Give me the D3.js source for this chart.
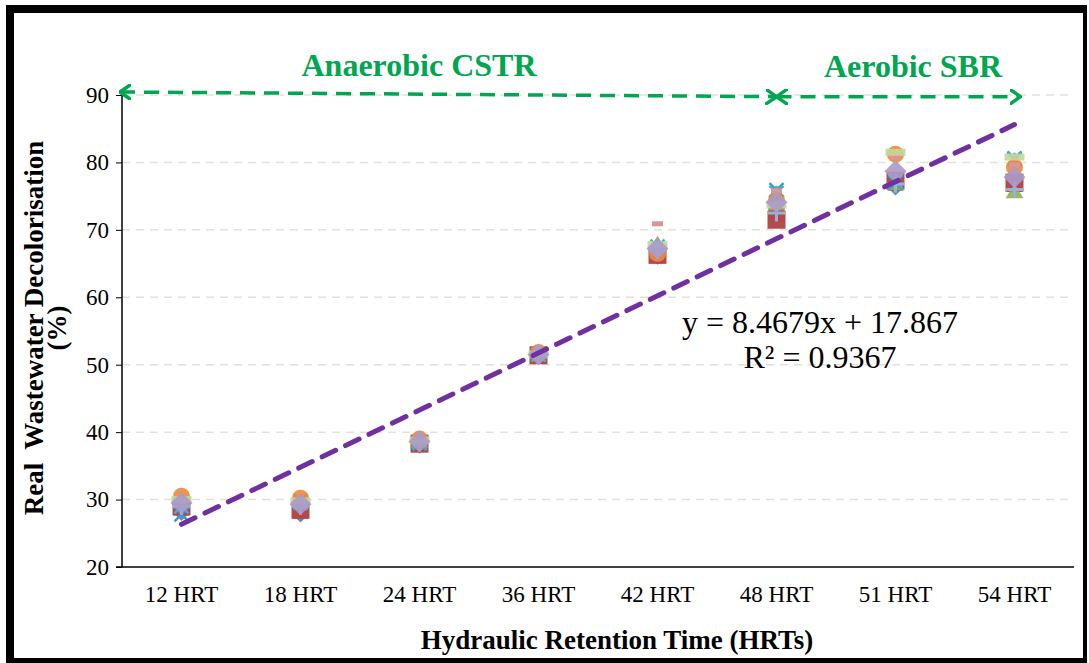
<!DOCTYPE html>
<html>
<head>
<meta charset="utf-8">
<script src="https://cdn.jsdelivr.net/npm/d3@7"></script>
<style>
  body { margin: 0; background: #fff; }
  svg text { font-family: "Liberation Serif", "Times New Roman", serif; }
</style>
</head>
<body>
<script>
// categories and values
var categories = ["12 HRT", "18 HRT", "24 HRT", "36 HRT", "42 HRT", "48 HRT", "51 HRT", "54 HRT"];
var yTicks = [20, 30, 40, 50, 60, 70, 80, 90];

var blueDiamond   = [28.0, 27.8, 38.0, 51.3, 66.0, 75.0, 76.3, 77.0];
var redSquare     = [29.0, 28.5, 38.3, 51.4, 66.3, 71.5, 77.3, 77.0];
var redSquare2    = [28.8, 28.3, 38.2, 51.3, 66.2, 72.3, 77.0, 76.8];
var greenTriangle = [29.5, 29.5, 38.5, 51.6, 67.8, 73.7, 76.7, 75.5];
var tealCross     = [27.8, 29.8, 38.3, 51.5, 66.8, 75.9, 77.0, 80.6];
var tealStar      = [29.0, 29.5, 38.5, 51.5, 67.5, 75.5, 77.2, 80.4];
var orangeCircle  = [30.5, 30.2, 39.0, 51.8, 66.5, 74.4, 81.2, 79.3];
var bluePlus      = [29.0, 29.0, 38.4, 51.4, 67.0, 72.5, 76.8, 76.0];
var pinkDash      = [30.0, 29.0, 38.6, 51.6, 70.9, 75.8, 80.8, 79.6];
var greenBar      = [30.0, 29.8, 38.8, 51.6, 67.8, 73.7, 81.5, 80.8];
var lavDiamond    = [29.5, 29.3, 38.6, 51.5, 67.2, 74.1, 78.7, 77.8];

var trendSlope = 8.4679, trendIntercept = 17.867, trendR2 = 0.9367;

var W = 1089, H = 663;
var margin = {top: 95, right: 15, bottom: 96, left: 122};
var serif = "'Liberation Serif', 'Times New Roman', serif";

var svg = d3.select("body").append("svg")
  .attr("width", W)
  .attr("height", H);

// frame with shadow
svg.append("rect").attr("x", 6).attr("y", 5).attr("width", 1081).attr("height", 658).attr("fill", "#000");
svg.append("rect").attr("x", 14).attr("y", 13).attr("width", 1069).attr("height", 645).attr("fill", "#fff");

var x = d3.scaleBand().domain(categories).range([margin.left, W - margin.right]);
var y = d3.scaleLinear().domain([20, 90]).range([H - margin.bottom, margin.top]);
var cx = function(i) { return x(categories[i]) + x.bandwidth() / 2; };

// gridlines
svg.append("g").selectAll("line")
  .data(yTicks.slice(1))
  .enter().append("line")
    .attr("x1", margin.left).attr("x2", W - margin.right)
    .attr("y1", function(d) { return y(d); })
    .attr("y2", function(d) { return y(d); })
    .attr("stroke", "#e4e1d6")
    .attr("stroke-width", 1.5)
    .attr("stroke-dasharray", "8,6");

// axes
var gY = svg.append("g")
  .attr("transform", "translate(" + margin.left + ",0)")
  .call(d3.axisLeft(y).tickValues(yTicks).tickSize(6).tickPadding(7));
gY.attr("font-family", serif);
gY.select(".domain").attr("stroke-width", 1.5).attr("d", "M0," + y(20) + "V" + y(90));
gY.selectAll("text").attr("font-size", 23).attr("fill", "#000");

var gX = svg.append("g")
  .attr("transform", "translate(0," + y(20) + ")")
  .call(d3.axisBottom(x).tickSize(0).tickPadding(19));
gX.attr("font-family", serif);
gX.select(".domain").attr("stroke-width", 1.5).attr("d", "M" + (margin.left - 6) + ",0H" + (W - margin.right));
gX.selectAll("text").attr("font-size", 23).attr("fill", "#000");

// axis titles
svg.append("text")
  .attr("transform", "rotate(-90)")
  .attr("x", -328).attr("y", 43)
  .attr("text-anchor", "middle")
  .attr("font-size", 27).attr("font-weight", "bold")
  .style("white-space", "pre")
  .text("Real  Wastewater Decolorisation");
svg.append("text")
  .attr("transform", "rotate(-90)")
  .attr("x", -328).attr("y", 66)
  .attr("text-anchor", "middle")
  .attr("font-size", 27).attr("font-weight", "bold")
  .text("(%)");
svg.append("text")
  .attr("x", 617).attr("y", 649)
  .attr("text-anchor", "middle")
  .attr("font-size", 27).attr("font-weight", "bold")
  .text("Hydraulic Retention Time (HRTs)");

// markers
var series = [
  {data: blueDiamond,   kind: "diamond", color: "#4f81bd", s: 16},
  {data: redSquare,     kind: "square",  color: "#aa3a38", s: 18},
  {data: redSquare2,    kind: "square",  color: "#b8474a", s: 16},
  {data: greenTriangle, kind: "triangle", color: "#8eb04f", s: 18},
  {data: tealCross,     kind: "cross",   color: "#3e9ac2", s: 14},
  {data: tealStar,      kind: "star",    color: "#4bacc6", s: 14},
  {data: orangeCircle,  kind: "circle",  color: "#f0883a", s: 17},
  {data: bluePlus,      kind: "plus",    color: "#95b3d7", s: 17},
  {data: pinkDash,      kind: "dash",    color: "#d99694", s: 11},
  {data: greenBar,      kind: "bar",     color: "#c3d69b", s: 20},
  {data: lavDiamond,    kind: "diamond", color: "#a99bc9", s: 22}
];

var gM = svg.append("g");
series.forEach(function(sr) {
  var g = gM.append("g");
  sr.data.forEach(function(v, i) {
    var px = cx(i), py = y(v), s = sr.s, h = s / 2;
    if (sr.kind === "diamond") {
      g.append("path").attr("d", "M" + px + "," + (py - h) + "L" + (px + h) + "," + py + "L" + px + "," + (py + h) + "L" + (px - h) + "," + py + "Z")
        .attr("fill", sr.color).attr("fill-opacity", 0.9);
    } else if (sr.kind === "square") {
      g.append("rect").attr("x", px - h).attr("y", py - h).attr("width", s).attr("height", s)
        .attr("fill", sr.color).attr("fill-opacity", 0.9);
    } else if (sr.kind === "triangle") {
      g.append("path").attr("d", "M" + px + "," + (py - h) + "L" + (px + h) + "," + (py + h * 0.6) + "L" + (px - h) + "," + (py + h * 0.6) + "Z")
        .attr("fill", sr.color).attr("fill-opacity", 0.9);
    } else if (sr.kind === "circle") {
      g.append("circle").attr("cx", px).attr("cy", py).attr("r", h).attr("fill", sr.color).attr("fill-opacity", 0.9);
    } else if (sr.kind === "cross") {
      g.append("path").attr("d", "M" + (px - h) + "," + (py - h) + "L" + (px + h) + "," + (py + h) + "M" + (px - h) + "," + (py + h) + "L" + (px + h) + "," + (py - h))
        .attr("stroke", sr.color).attr("stroke-width", 2.5).attr("fill", "none");
    } else if (sr.kind === "star") {
      g.append("path").attr("d", "M" + (px - h) + "," + (py - h) + "L" + (px + h) + "," + (py + h) + "M" + (px - h) + "," + (py + h) + "L" + (px + h) + "," + (py - h) + "M" + px + "," + (py - h) + "V" + (py + h))
        .attr("stroke", sr.color).attr("stroke-width", 2.5).attr("fill", "none");
    } else if (sr.kind === "plus") {
      g.append("path").attr("d", "M" + (px - h) + "," + py + "H" + (px + h) + "M" + px + "," + (py - h) + "V" + (py + h))
        .attr("stroke", sr.color).attr("stroke-width", 3).attr("fill", "none");
    } else if (sr.kind === "dash") {
      g.append("rect").attr("x", px - h).attr("y", py - 2.5).attr("width", s).attr("height", 5)
        .attr("fill", sr.color);
    } else if (sr.kind === "bar") {
      g.append("rect").attr("x", px - h).attr("y", py - 3.5).attr("width", s).attr("height", 7)
        .attr("fill", sr.color).attr("fill-opacity", 0.9);
    }
  });
});

// linear trendline
svg.append("line")
  .attr("x1", cx(0)).attr("y1", y(trendSlope * 1 + trendIntercept))
  .attr("x2", cx(7)).attr("y2", y(trendSlope * 8 + trendIntercept))
  .attr("stroke", "#7030a0")
  .attr("stroke-width", 5)
  .attr("stroke-linecap", "round")
  .attr("stroke-dasharray", "15,11");

svg.append("text")
  .attr("x", 820).attr("y", 333)
  .attr("text-anchor", "middle")
  .attr("font-size", 32)
  .text("y = " + trendSlope + "x + " + trendIntercept);
svg.append("text")
  .attr("x", 820).attr("y", 368)
  .attr("text-anchor", "middle")
  .attr("font-size", 32)
  .text("R\u00b2 = " + trendR2);

// phase arrows
var green = "#00a650";
var defs = svg.append("defs");
defs.append("marker")
  .attr("id", "chev")
  .attr("viewBox", "0 0 12 16")
  .attr("refX", 11).attr("refY", 8)
  .attr("markerWidth", 12).attr("markerHeight", 16)
  .attr("markerUnits", "userSpaceOnUse")
  .attr("orient", "auto-start-reverse")
  .append("path")
    .attr("d", "M1,1L11,8L1,15")
    .attr("fill", "none")
    .attr("stroke", green)
    .attr("stroke-width", 3.5)
    .attr("stroke-linecap", "round")
    .attr("stroke-linejoin", "round");

svg.append("line")
  .attr("x1", margin.left - 2).attr("y1", y(90.45))
  .attr("x2", cx(5)).attr("y2", y(89.75))
  .attr("stroke", green).attr("stroke-width", 3.5)
  .attr("stroke-dasharray", "15,9")
  .attr("marker-start", "url(#chev)")
  .attr("marker-end", "url(#chev)");
svg.append("line")
  .attr("x1", cx(5)).attr("y1", y(89.75))
  .attr("x2", cx(7) + 6).attr("y2", y(89.75))
  .attr("stroke", green).attr("stroke-width", 3.5)
  .attr("stroke-dasharray", "15,9")
  .attr("marker-start", "url(#chev)")
  .attr("marker-end", "url(#chev)");

svg.append("text")
  .attr("x", 419).attr("y", 76)
  .attr("text-anchor", "middle")
  .attr("font-size", 32).attr("font-weight", "bold")
  .attr("fill", green)
  .text("Anaerobic CSTR");
svg.append("text")
  .attr("x", 913).attr("y", 77)
  .attr("text-anchor", "middle")
  .attr("font-size", 32).attr("font-weight", "bold")
  .attr("fill", green)
  .text("Aerobic SBR");
</script>
</body>
</html>
